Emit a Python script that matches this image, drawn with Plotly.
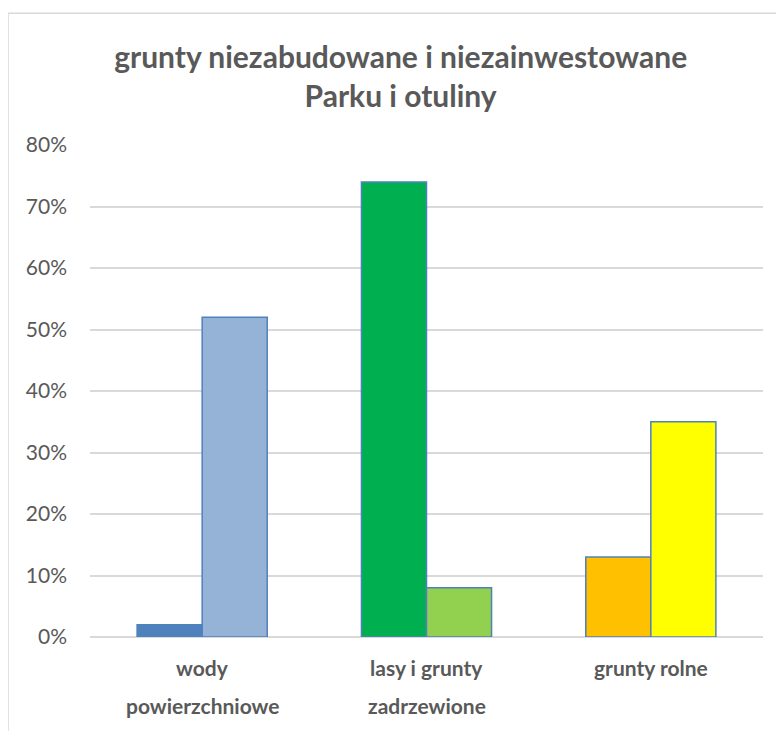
import plotly.graph_objects as go

categories = ["wody powierzchniowe", "lasy i grunty zadrzewione", "grunty rolne"]
category_lines = [["wody", "powierzchniowe"], ["lasy i grunty", "zadrzewione"], ["grunty rolne"]]
series1 = [2, 74, 13]
series2 = [52, 8, 35]
colors1 = ["#4F81BD", "#00B050", "#FFC000"]
colors2 = ["#95B3D7", "#92D050", "#FFFF00"]
tick_vals = [0, 10, 20, 30, 40, 50, 60, 70, 80]
tick_text = ["0%", "10%", "20%", "30%", "40%", "50%", "60%", "70%", "80%"]

fig = go.Figure()
fig.add_trace(go.Bar(x=categories, y=series1, marker=dict(color=colors1, line=dict(color="#4F81BD", width=1.5))))
fig.add_trace(go.Bar(x=categories, y=series2, marker=dict(color=colors2, line=dict(color="#4F81BD", width=1.5))))

annotations = []
for cat, lines in zip(categories, category_lines):
    for i, line in enumerate(lines):
        annotations.append(dict(x=cat, xref="x", y=0, yref="paper", yanchor="middle",
                                yshift=-30 - 38 * i, text="<b>" + line + "</b>", showarrow=False,
                                font=dict(size=21, color="#595959", family="Lato")))

fig.update_layout(
    width=776, height=723,
    barmode="group", bargap=0.42, bargroupgap=0,
    showlegend=False,
    paper_bgcolor="white", plot_bgcolor="white",
    margin=dict(l=82, r=21, t=137, b=94),
    font=dict(family="Lato", color="#595959"),
    title=dict(text="<b>grunty niezabudowane i niezainwestowane<br>Parku i otuliny</b>",
               x=0.506, xanchor="center", y=0.917, yanchor="middle",
               font=dict(size=30, color="#595959", family="Lato")),
    annotations=annotations,
    shapes=[dict(type="rect", xref="paper", yref="paper", x0=-0.1218, x1=1.2, y0=-0.5, y1=1.268,
                 line=dict(color="#D9D9D9", width=1.5), layer="below")],
)
fig.update_xaxes(showgrid=False, showline=False, ticks="", showticklabels=False)
fig.update_yaxes(range=[0, 80], tickvals=tick_vals, ticktext=tick_text,
                 gridcolor="#D9D9D9", gridwidth=1.5, zeroline=True, zerolinecolor="#D9D9D9",
                 zerolinewidth=1.5, showline=False, ticks="",
                 tickfont=dict(size=21, color="#595959", family="Lato"),
                 ticklabelstandoff=22)
fig.write_html("out.html")
